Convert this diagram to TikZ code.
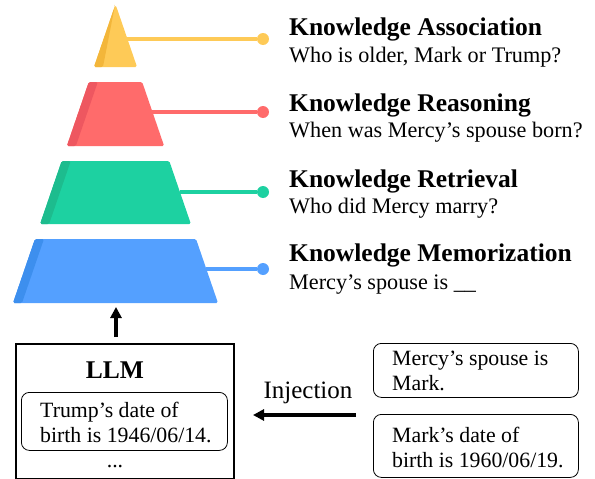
\documentclass[tikz,border=0pt]{standalone}
\usepackage{fontspec}
\setmainfont{Liberation Serif}
\usetikzlibrary{arrows.meta}

\definecolor{assocC}{HTML}{FECA57}
\definecolor{assocD}{HTML}{F3B63A}
\definecolor{reasonC}{HTML}{FF6B6B}
\definecolor{reasonD}{HTML}{EE5760}
\definecolor{retrC}{HTML}{1DD1A1}
\definecolor{retrD}{HTML}{1DBC8E}
\definecolor{memoC}{HTML}{54A0FF}
\definecolor{memoD}{HTML}{3D8FEE}

\tikzset{
  levelhead/.style={anchor=base west, inner sep=0pt, font=\fontsize{25.5}{28}\selectfont\bfseries},
  levelsub/.style={anchor=base west, inner sep=0pt, font=\fontsize{22.2}{26}\selectfont},
  leveldot/.style={circle, inner sep=0pt, minimum size=12pt},
  fact/.style={draw, rounded corners=8pt, line width=0.8pt, inner sep=0pt},
  facttext/.style={anchor=base west, inner sep=0pt, font=\fontsize{21.8}{26}\selectfont},
  bigarrow/.style={-{Triangle[length=11pt, width=11pt]}, line width=3.6pt},
}

\begin{document}
\begin{tikzpicture}[x=1pt, y=-1pt]
  \useasboundingbox (0,0) rectangle (595,479);

  % pyramid levels: top, bottom, stripe at top, line y, colour, dark, name
  \foreach \yt/\yb/\st/\yl/\col/\dk/\nm in {
      6/67/0/39/assocC/assocD/assoc,
      82/146/9/112/reasonC/reasonD/reason,
      161/224/9/192/retrC/retrD/retr,
      239/303/9/269/memoC/memoD/memo}{
    \pgfmathsetmacro{\xlt}{13+(303-\yt)*0.343}
    \pgfmathsetmacro{\xlb}{13+(303-\yb)*0.343}
    \pgfmathsetmacro{\xrl}{218-(303-\yl)*0.343}
    \fill[\col, rounded corners=1.5pt] (\xlt,\yt) -- (231-\xlt,\yt) -- (231-\xlb,\yb) -- (\xlb,\yb) -- cycle;
    \fill[\dk, rounded corners=1.5pt] (\xlt,\yt) -- (\xlt+\st,\yt) -- (\xlb+9,\yb) -- (\xlb,\yb) -- cycle;
    \coordinate (\nm-edge) at (\xrl,\yl);
    \node[leveldot, fill=\col] (\nm-dot) at (263,\yl) {};
    \draw[\col, line width=3.2pt] (\nm-edge) -- (\nm-dot);
  }

  \node[levelhead] (assoc-head) at (289,35) {Knowledge Association};
  \node[levelsub] (assoc-sub) at (289,62) {Who is older, Mark or Trump?};
  \node[levelhead] (reason-head) at (289,111) {Knowledge Reasoning};
  \node[levelsub] (reason-sub) at (289,137) {When was Mercy's spouse born?};
  \node[levelhead] (retr-head) at (289,187) {Knowledge Retrieval};
  \node[levelsub] (retr-sub) at (289,213) {Who did Mercy marry?};
  \node[levelhead] (memo-head) at (289,261) {Knowledge Memorization};
  \node[levelsub] (memo-sub) at (289,289) {Mercy’s spouse is \_\_};

  % model
  \node[draw, line width=1.6pt, minimum width=218pt, minimum height=135pt, anchor=north west] (llm) at (15,343) {};
  \node[anchor=base, inner sep=0pt, font=\fontsize{25.5}{28}\selectfont\bfseries] (llm-name) at (115,378) {LLM};
  \node[fact, minimum width=206pt, minimum height=58pt, anchor=north west] (old-fact) at (21,392) {};
  \node[facttext] (old-a) at (40,417) {Trump’s date of};
  \node[facttext] (old-b) at (40,442) {birth is 1946/06/14.};
  \node[anchor=base, inner sep=0pt, font=\fontsize{21.8}{26}\selectfont] (more) at (115,467) {...};
  \coordinate (llm-top) at (116,337);
  \coordinate (pyr-base) at (116,307);
  \draw[bigarrow] (llm-top) -- (pyr-base);

  % new knowledge
  \node[fact, minimum width=205pt, minimum height=54pt, anchor=north west] (new-a) at (373,343) {};
  \node[facttext] (new-a1) at (392,365) {Mercy’s spouse is};
  \node[facttext] (new-a2) at (392,390) {Mark.};
  \node[fact, minimum width=205pt, minimum height=63pt, anchor=north west] (new-b) at (373,414) {};
  \node[facttext] (new-b1) at (392,442) {Mark’s date of};
  \node[facttext] (new-b2) at (392,467) {birth is 1960/06/19.};

  \coordinate (inj-start) at (356,415);
  \coordinate (inj-end) at (253,415);
  \draw[bigarrow] (inj-start) -- (inj-end);
  \node[anchor=base, inner sep=0pt, font=\fontsize{25}{28}\selectfont] (inj) at (308,398) {Injection};
\end{tikzpicture}
\end{document}
